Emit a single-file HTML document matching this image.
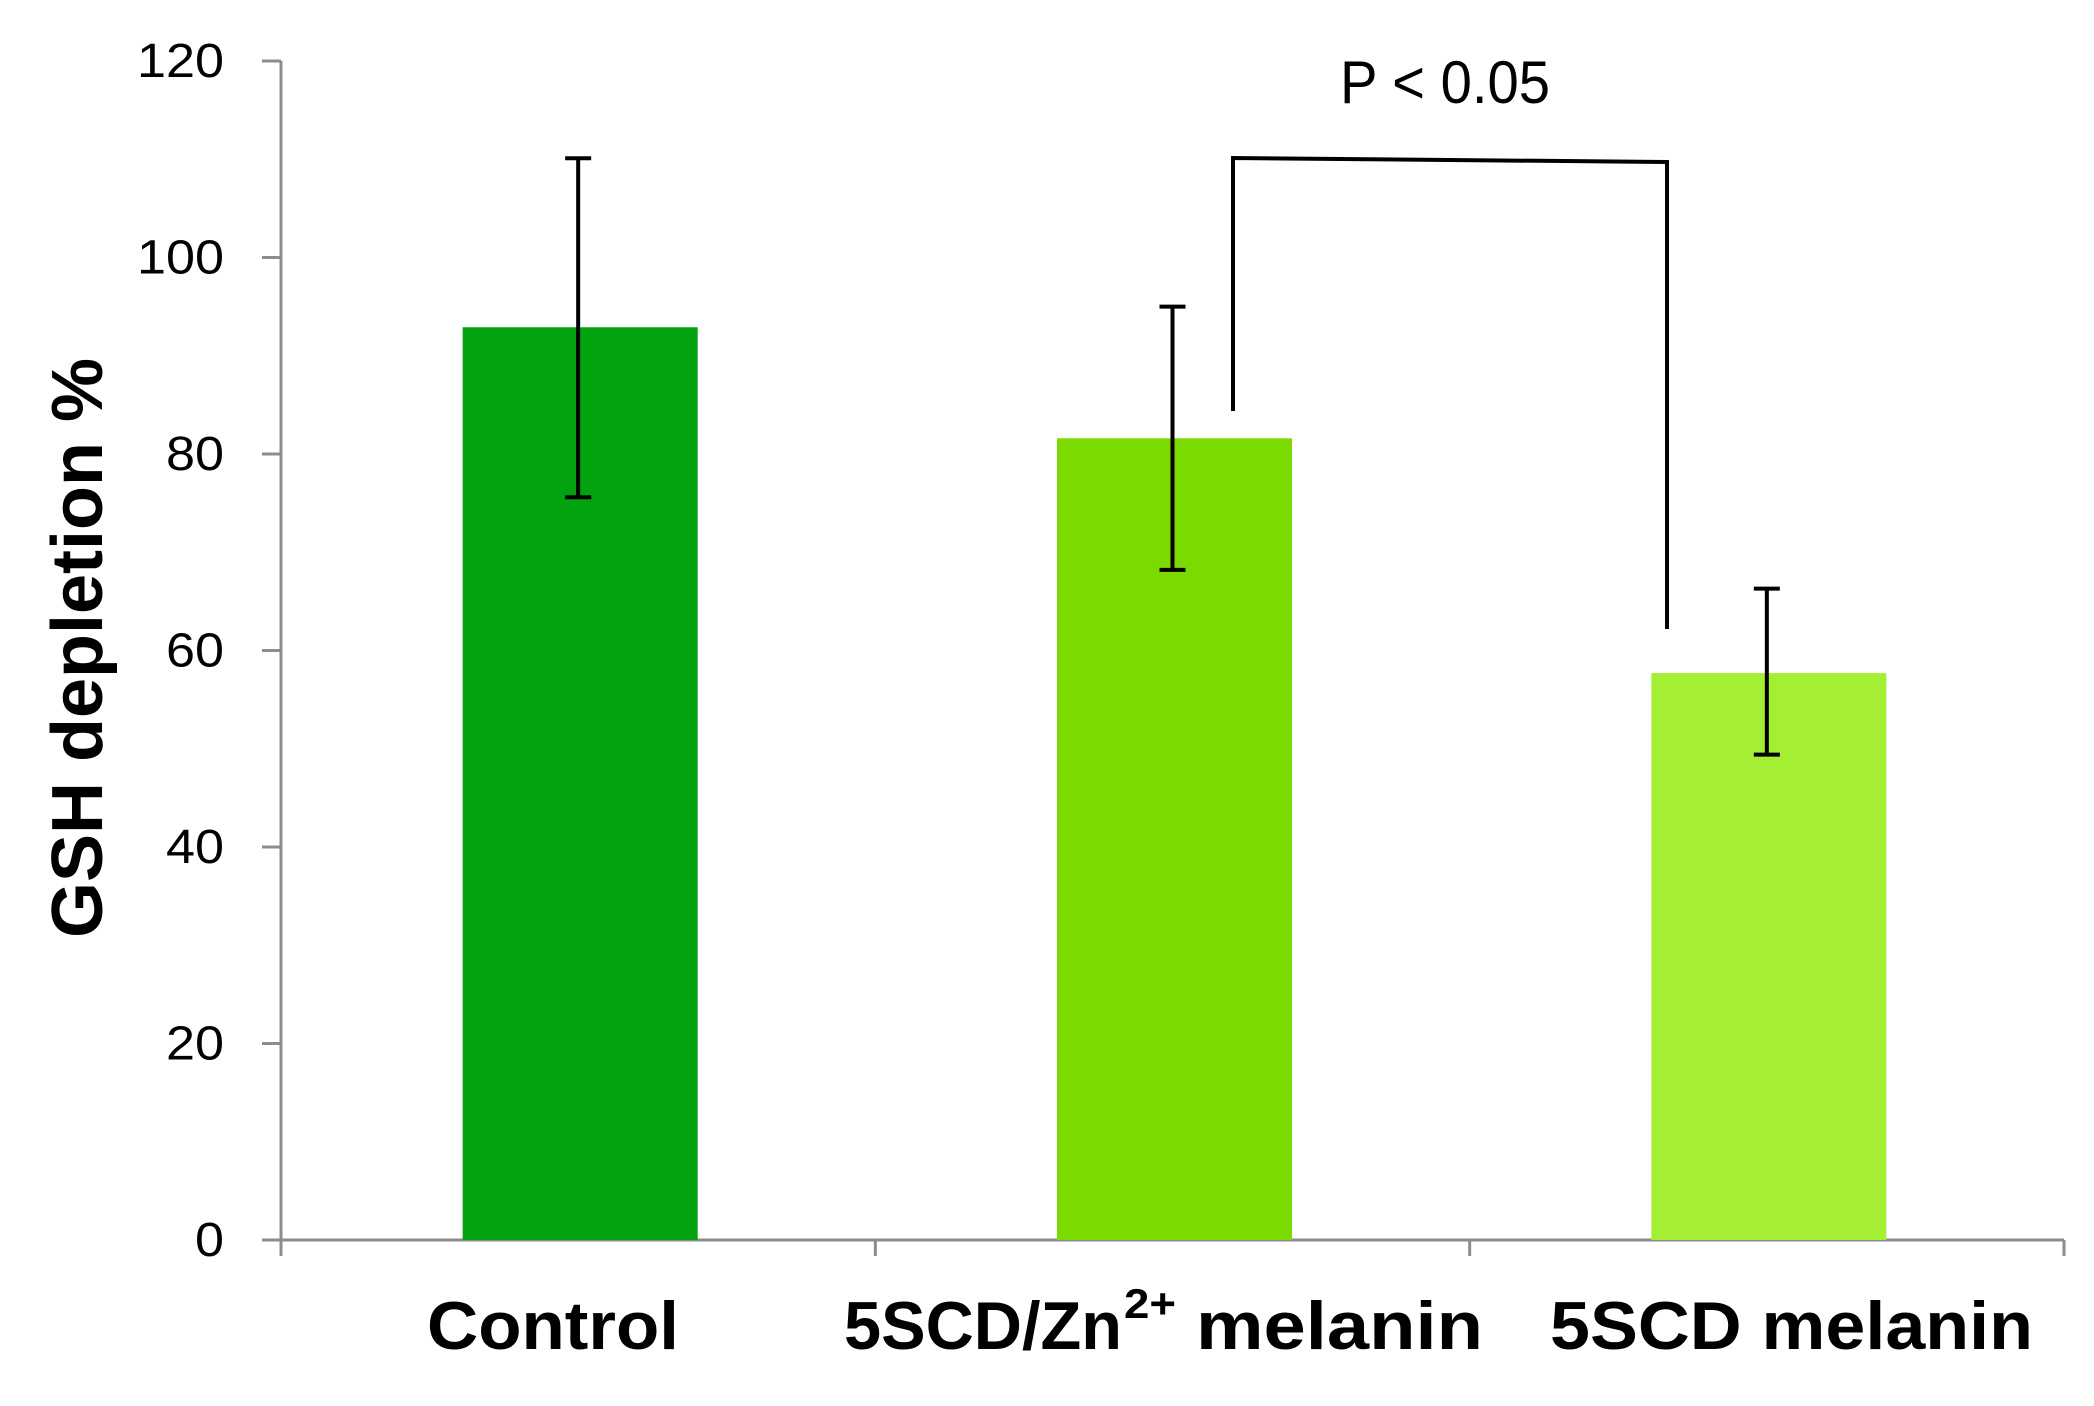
<!DOCTYPE html>
<html><head><meta charset="utf-8"><style>
html,body{margin:0;padding:0;background:#fff;}
svg{display:block;}
</style></head><body>
<svg id="chart" width="2094" height="1406" viewBox="0 0 2094 1406" xmlns="http://www.w3.org/2000/svg" font-family="'Liberation Sans', sans-serif">
<g id="axes"></g><g id="bars"></g><g id="errs"></g><g id="labels"></g>
<g fill="none" stroke="#000" stroke-width="4">
<polyline points="1233,411 1233,158 1667,162 1667,629"/>
</g>
<text x="1340" y="103" font-size="60" textLength="210" lengthAdjust="spacingAndGlyphs">P &lt; 0.05</text>
<text transform="translate(102,648) rotate(-90)" text-anchor="middle" font-size="72" font-weight="bold" textLength="580" lengthAdjust="spacingAndGlyphs">GSH depletion %</text>
</svg>
<script>
const categories = ["Control", "5SCD/Zn2+ melanin", "5SCD melanin"];
const values = [92.9, 81.6, 57.7];
const errHigh = [110.1, 95.0, 66.3];
const errLow = [75.6, 68.2, 49.4];
const yTicks = [0, 20, 40, 60, 80, 100, 120];
const colors = ["#02A30F", "#7BDB00", "#A4EE33"];

const NS = "http://www.w3.org/2000/svg";
const x0 = 281, x1 = 2064, yBase = 1240, yTop = 61, yMax = 120;
const band = (x1 - x0) / categories.length;
const barW = 235;
function yScale(v){ return yBase - (v / yMax) * (yBase - yTop); }
function xCenter(i){ return x0 + band * (i + 0.5); }
function mk(tag, attrs, parent){ const e=document.createElementNS(NS,tag); for(const k in attrs) e.setAttribute(k,attrs[k]); parent.appendChild(e); return e; }

const axes=document.getElementById('axes'), bars=document.getElementById('bars'), errs=document.getElementById('errs'), labels=document.getElementById('labels');

const yAxis = mk('line',{x1:x0,y1:yTop,x2:x0,y2:1256,stroke:'#8c8c8c','stroke-width':3},axes);


const xAxis = mk('line',{x1:262,y1:yBase,x2:x1,y2:yBase,stroke:'#8c8c8c','stroke-width':3},axes);



yTicks.forEach(t=>{
  const y=yScale(t);
  const tk=mk('line',{x1:262,y1:y,x2:x0,y2:y,stroke:'#8c8c8c','stroke-width':3},axes);
  
  
  const s=String(t);
  const lb=mk('text',{x:224,y:y+16,'text-anchor':'end','font-size':48,textLength:29*s.length,lengthAdjust:'spacingAndGlyphs'},axes);
  lb.textContent=s;
  
  
});
for(let i=1;i<=categories.length;i++){
  const x=x0+band*i;
  const tk=mk('line',{x1:x,y1:yBase,x2:x,y2:1256,stroke:'#8c8c8c','stroke-width':3},axes);
  
  
}

values.forEach((v,i)=>{
  const cx=xCenter(i);
  const r=mk('rect',{x:cx-barW/2+2,y:yScale(v),width:barW,height:yBase-yScale(v),fill:colors[i]},bars);
  
  
  const g=mk('g',{stroke:'#000','stroke-width':4},errs);
  
  
  const px=cx;
  mk('line',{x1:px,y1:yScale(errHigh[i]),x2:px,y2:yScale(errLow[i])},g);
  mk('line',{x1:px-13,y1:yScale(errHigh[i]),x2:px+13,y2:yScale(errHigh[i])},g);
  mk('line',{x1:px-13,y1:yScale(errLow[i]),x2:px+13,y2:yScale(errLow[i])},g);
});

const l1=mk('text',{x:427,y:1349,'font-size':68,'font-weight':'bold',textLength:252,lengthAdjust:'spacingAndGlyphs'},labels);
l1.textContent=categories[0];


const l2=mk('text',{x:844,y:1349,'font-size':68,'font-weight':'bold'},labels);


const a=mk('tspan',{textLength:278,lengthAdjust:'spacingAndGlyphs'},l2); a.textContent='5SCD/Zn';
const b=mk('tspan',{x:1124,y:1318,'font-size':42,textLength:52,lengthAdjust:'spacingAndGlyphs'},l2); b.textContent='2+';
const c=mk('tspan',{x:1196,y:1349,textLength:287,lengthAdjust:'spacingAndGlyphs'},l2); c.textContent='melanin';
const l3=mk('text',{x:1550,y:1349,'font-size':68,'font-weight':'bold',textLength:483,lengthAdjust:'spacingAndGlyphs'},labels);
l3.textContent=categories[2];


</script>
</body></html>
